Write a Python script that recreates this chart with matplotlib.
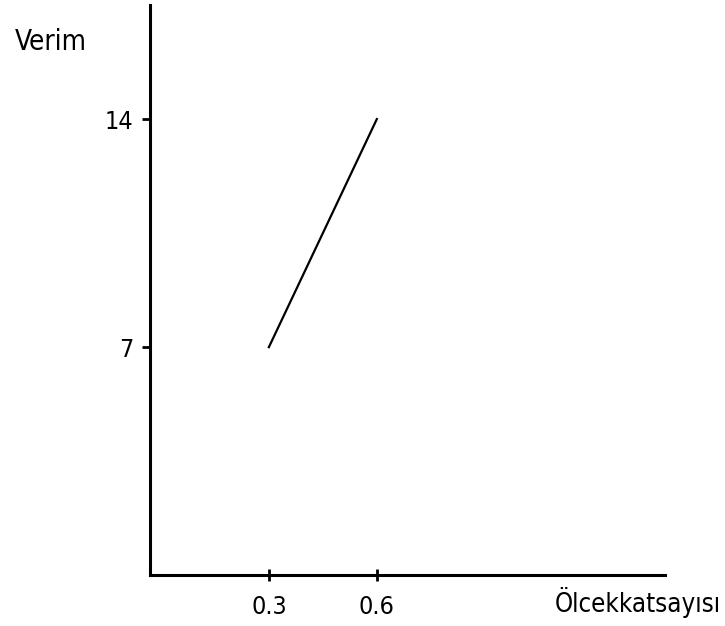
import matplotlib
matplotlib.use("Agg")
import matplotlib.pyplot as plt

# olcek katsayisi - verim
OLCEK = [0.3, 0.6]
VERIM = [7, 14]

X_TICKS = [0.3, 0.6]
X_TICKLABELS = ["0.3", "0.6"]
Y_TICKS = [7, 14]
Y_TICKLABELS = ["7", "14"]

plt.rcParams['font.family'] = ['DejaVu Sans']
plt.rcParams['font.stretch'] = 'condensed'
plt.rcParams['font.weight'] = 'light'

fig = plt.figure(figsize=(7.25, 6.26), dpi=100)
ax = fig.add_axes([0.207, 0.081, 0.71, 0.911])

ax.plot(OLCEK, VERIM, color="k", linewidth=1.6)

ax.set_xlim(-0.03, 1.4)
ax.set_ylim(0, 17.5)

for s in ("top", "right"):
    ax.spines[s].set_visible(False)
for s in ("left", "bottom"):
    ax.spines[s].set_linewidth(2.2)

ax.set_xticks(X_TICKS)
ax.set_xticklabels(X_TICKLABELS, fontsize=18)
ax.set_yticks(Y_TICKS)
ax.set_yticklabels(Y_TICKLABELS, fontsize=18)
ax.tick_params(axis="y", direction="out", length=6, width=2, pad=6)
ax.tick_params(axis="x", direction="inout", length=8, width=2, pad=10)

fig.text(15 / 725, 1 - 42 / 626, "Verim", fontsize=20, va="center", ha="left")
fig.text(555 / 725, 1 - 602 / 626, "Ölcekkatsayısı", fontsize=18.5, va="center", ha="left")

fig.savefig("out.png", dpi=100)
